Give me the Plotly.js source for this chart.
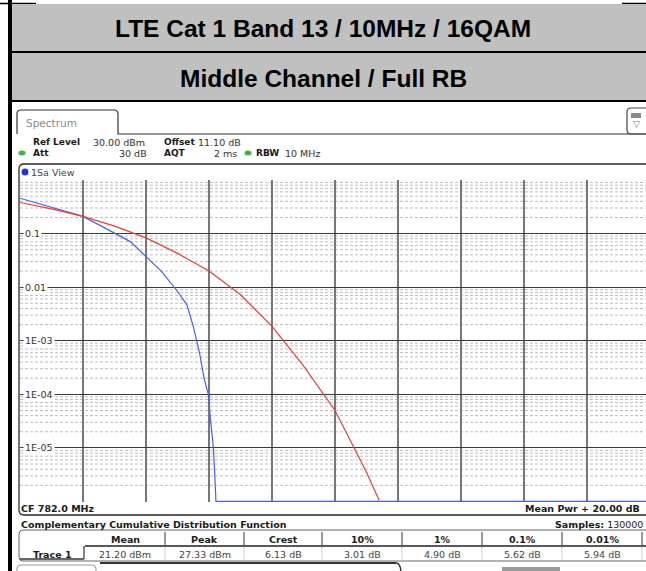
<!DOCTYPE html>
<html><head><meta charset="utf-8">
<script src="https://cdn.plot.ly/plotly-3.0.1.min.js"></script>
<style>html,body{margin:0;padding:0;background:#fff;overflow:hidden}#chart{width:646px;height:571px}</style>
</head><body><div id="chart"></div>
<script>
// ---- data ----
const titleLine1 = 'LTE Cat 1 Band 13 / 10MHz / 16QAM';
const titleLine2 = 'Middle Channel / Full RB';
// Trace 1 (measured CCDF), x = dB above mean power, y = probability
const traceX = [0, 1, 2, 3, 3.5, 4, 4.5, 5, 5.3, 5.5, 5.7, 5.85, 5.98, 6.05, 6.14, 6.19, 6.22, 20];
const traceY = [0.457, 0.309, 0.209, 0.102, 0.0708, 0.0372, 0.0195, 0.0083, 0.00468, 0.00186, 0.00059, 0.00019, 0.0001, 3.2e-5, 1.0e-5, 2.6e-6, 1.0e-6, 1.0e-6];
// Gaussian reference curve
const gaussX = [0, 1, 2, 3, 4, 5, 6, 7, 8, 9, 10, 10.6, 11, 11.4];
const gaussY = [0.38, 0.288, 0.209, 0.138, 0.083, 0.0427, 0.020, 0.0072, 0.00186, 3.4e-4, 5.0e-5, 1.02e-5, 3.5e-6, 1.05e-6];
const yTickVals = [0.1, 0.01, 0.001, 0.0001, 0.00001];
const yTickText = ['0.1', '0.01', '1E-03', '1E-04', '1E-05'];
const statHeaders = ['Mean', 'Peak', 'Crest', '10%', '1%', '0.1%', '0.01%'];
const statValues = ['21.20 dBm', '27.33 dBm', '6.13 dB', '3.01 dB', '4.90 dB', '5.62 dB', '5.94 dB'];
const xSpanDb = 20;       // Mean Pwr + 20.00 dB
const yDecades = [-6, 0];

// ---- geometry ----
const W = 646, H = 571, L = 20, T = 180, PW = 626, PH = 322;
const xMax = xSpanDb * PW / 630;
const FONT = 'DejaVu Sans, Verdana, sans-serif';
const fx = px => (px - L) / PW;
const fy = py => (T + PH - py) / PH;
const P = (x, y) => fx(x) + ',' + fy(y);

const ann = [];
function txt(px, py, text, o = {}) {
  ann.push(Object.assign({
    xref: 'paper', yref: 'paper', x: fx(px), y: fy(py), text: text, showarrow: false,
    xanchor: o.anchor || 'left', yanchor: 'middle', borderpad: 0,
    font: {family: o.family || FONT, size: o.size || 9.5, color: o.color || '#1a1a1a'}
  }, o.extra || {}));
}
const shp = [];
function line(x0, y0, x1, y1, color, width, dash) {
  shp.push({type: 'line', xref: 'paper', yref: 'paper', x0: fx(x0), y0: fy(y0), x1: fx(x1), y1: fy(y1),
    line: {color: color, width: width, dash: dash || 'solid'}, layer: 'above'});
}
function rect(x0, y0, x1, y1, fill, lc, lw) {
  shp.push({type: 'rect', xref: 'paper', yref: 'paper', x0: fx(x0), y0: fy(y0), x1: fx(x1), y1: fy(y1),
    fillcolor: fill, line: {color: lc || fill, width: lw || 0}, layer: 'above'});
}
function path(d, color, width, fill) {
  shp.push({type: 'path', xref: 'paper', yref: 'paper', path: d,
    line: {color: color, width: width}, fillcolor: fill || 'rgba(0,0,0,0)', layer: 'above'});
}
function dot(cx, cy, rx, ry, fill) {
  shp.push({type: 'circle', xref: 'paper', yref: 'paper', x0: fx(cx - rx), x1: fx(cx + rx), y0: fy(cy + ry), y1: fy(cy - ry),
    fillcolor: fill, line: {color: fill, width: 0}, layer: 'above'});
}

// minor log grid (dotted)
for (let d = yDecades[0]; d < yDecades[1]; d++) {
  for (let m = 2; m <= 9; m++) {
    const v = m * Math.pow(10, d);
    shp.push({type: 'line', xref: 'x', yref: 'y', x0: 0, x1: xMax, y0: v, y1: v,
      line: {color: '#bcbcbc', width: 1, dash: '3px,2px'}, layer: 'below'});
  }
}

// ---- header (grey table rows) ----
line(0, 3.5, 36, 3.5, '#000', 1.5);
line(622, 3.5, 646, 3.5, '#000', 1.5);
rect(12, 4, 646, 51, '#c0c0c0');
rect(12, 53, 646, 100, '#c0c0c0');
line(12, 52, 646, 52, '#000', 2);
line(12, 101, 646, 101, '#000', 2);
rect(8, 0, 12, 571, '#000');
txt(323, 28, '<b>' + titleLine1 + '</b>', {anchor: 'center', family: 'Liberation Sans, Arial, sans-serif', size: 24.5, color: '#000'});
txt(323, 79, '<b>' + titleLine2 + '</b>', {anchor: 'center', family: 'Liberation Sans, Arial, sans-serif', size: 24.5, color: '#000'});

// ---- instrument top ----
path('M' + P(17, 134) + ' L' + P(17, 114) + ' Q' + P(17, 110) + ' ' + P(21, 110) + ' L' + P(114, 110) +
     ' Q' + P(118, 110) + ' ' + P(118, 114) + ' L' + P(118, 134) + ' L' + P(646, 134), '#333', 1.2);
txt(25, 123, 'Spectrum', {size: 10.5, color: '#8a8a8a'});
path('M' + P(646, 108) + ' L' + P(631, 108) + ' Q' + P(627, 108) + ' ' + P(627, 112) + ' L' + P(627, 130) +
     ' Q' + P(627, 134) + ' ' + P(631, 134) + ' L' + P(646, 134), '#444', 1.2);
rect(631, 113, 641, 118, '#8a8a8a');
txt(636, 124, '▽', {anchor: 'center', size: 9, color: '#777'});

txt(32, 142, '<b>Ref Level</b>', {size: 9});
txt(92, 142, '30.00 dBm', {color: '#333'});
txt(163, 142, '<b>Offset</b>', {size: 9});
txt(197, 142, '11.10 dB', {color: '#333'});
dot(22, 153, 3.5, 2.5, '#3cb44b');
txt(32, 153, '<b>Att</b>', {size: 9});
txt(148, 153, '30 dB', {anchor: 'right', color: '#333'});
txt(163, 153, '<b>AQT</b>', {size: 9});
txt(238, 153, '2 ms', {anchor: 'right', color: '#333'});
dot(248, 153, 3.5, 2.5, '#3cb44b');
txt(255, 153, '<b>RBW</b>', {size: 9});
txt(284, 153, '10 MHz', {color: '#333'});

// plot frame (rounded box)
path('M' + P(650, 164) + ' L' + P(24, 164) + ' Q' + P(19, 164) + ' ' + P(19, 169) + ' L' + P(19, 510) +
     ' Q' + P(19, 515) + ' ' + P(24, 515) + ' L' + P(650, 515), '#2a2a2a', 1.3);
dot(25, 172, 3.5, 3.5, '#1f33d6');
txt(30, 172, '1Sa View', {color: '#444'});

// y tick labels inside plot
yTickVals.forEach((v, i) => {
  ann.push({xref: 'paper', yref: 'y', x: 0, y: Math.log10(v), xanchor: 'left', yanchor: 'middle', xshift: 3,
    text: yTickText[i], showarrow: false, bgcolor: '#ffffff', borderpad: 1,
    font: {family: FONT, size: 9.5, color: '#333'}});
});

txt(20, 508, '<b>CF 782.0 MHz</b>');
txt(641, 508, '<b>Mean Pwr + 20.00 dB</b>', {anchor: 'right'});

// ---- CCDF table ----
txt(20, 524, '<b>Complementary Cumulative Distribution Function</b>');
txt(644, 524, '<b>Samples:</b> 130000', {anchor: 'right'});
path('M' + P(650, 530) + ' L' + P(23, 530) + ' Q' + P(19, 530) + ' ' + P(19, 534) + ' L' + P(19, 557) +
     ' Q' + P(19, 561) + ' ' + P(23, 561) + ' L' + P(650, 561), '#666', 1);
const colEdges = [85, 165, 244, 322, 402, 482, 562, 642];
line(85, 546, 650, 546, '#222', 1.3);
statHeaders.forEach((h, i) => {
  const c = (colEdges[i] + colEdges[i + 1]) / 2;
  txt(c, 539, '<b>' + h + '</b>', {anchor: 'center'});
  txt(c, 554, statValues[i], {anchor: 'center', color: '#444'});
});
colEdges.slice(1).forEach(x => {
  line(x, 532, x, 545, '#333', 1);
  line(x, 547, x, 560, '#d0d0d0', 1);
});
line(84, 546, 84, 559, '#333', 1.2);
line(20, 559, 84, 559, '#333', 1.5);
txt(52, 554, '<b>Trace 1</b>', {anchor: 'center'});

// bottom strip
line(100, 563, 396, 563, '#333', 2);
path('M' + P(396, 563) + ' Q' + P(400, 563) + ' ' + P(401, 571), '#333', 1.5);
path('M' + P(17, 572) + ' L' + P(17, 568) + ' Q' + P(17, 565) + ' ' + P(21, 565) + ' L' + P(92, 565) +
     ' Q' + P(96, 565) + ' ' + P(96, 569) + ' L' + P(96, 572), '#999', 1);
rect(502, 567, 560, 572, '#9a9a9a');

const traces = [
  {x: traceX, y: traceY, type: 'scatter', mode: 'lines', line: {color: '#4b5df2', width: 1.2}, hoverinfo: 'skip'},
  {x: gaussX, y: gaussY, type: 'scatter', mode: 'lines', line: {color: '#f03c3c', width: 1.2}, hoverinfo: 'skip'}
];

const layout = {
  width: W, height: H,
  margin: {l: L, r: W - L - PW, t: T, b: H - T - PH, pad: 0},
  paper_bgcolor: '#ffffff', plot_bgcolor: '#ffffff',
  showlegend: false,
  font: {family: FONT},
  xaxis: {range: [0, xMax], dtick: 2, tick0: 0, showticklabels: false, ticks: '', zeroline: false,
    showgrid: true, gridcolor: '#777777', gridwidth: 1.5, showline: false, fixedrange: true},
  yaxis: {type: 'log', range: [yDecades[0] - 0.01, yDecades[1]], dtick: 1, showticklabels: false, ticks: '',
    showgrid: true, gridcolor: '#3a3a3a', gridwidth: 1.2, zeroline: false, showline: false, fixedrange: true},
  shapes: shp,
  annotations: ann
};
Plotly.newPlot('chart', traces, layout, {staticPlot: true, displayModeBar: false});
</script>
</body></html>
